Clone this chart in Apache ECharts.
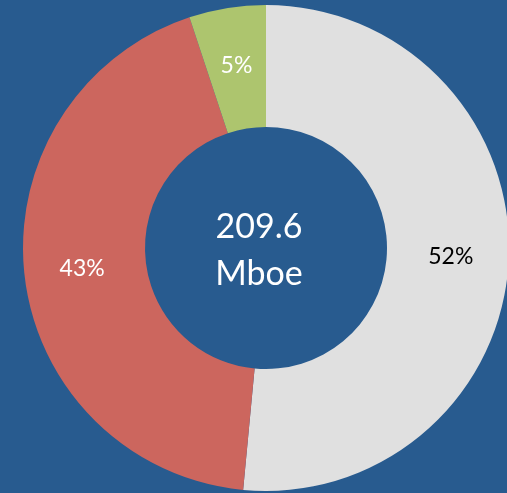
<!DOCTYPE html>
<html>
<head>
<meta charset="utf-8">
<script src="https://cdn.jsdelivr.net/npm/echarts@6/dist/echarts.min.js"></script>
<style>
  html, body { margin: 0; padding: 0; background: #285b8f; }
  #chart { width: 507px; height: 493px; }
</style>
</head>
<body>
<div id="chart"></div>
<script>
// slice shares, shown labels
const names = ['Other', 'Red', 'Green'];
const values = [51.5, 43.4, 5.1];
const labels = ['52%', '43%', '5%'];
const colors = ['#e0e0e0', '#cc665e', '#adc56e'];
const labelColors = ['#000000', '#ffffff', '#ffffff'];
const centerText = ['209.6', 'Mboe'];

const chart = echarts.init(document.getElementById('chart'), null, { renderer: 'canvas' });

const option = {
  backgroundColor: '#285b8f',
  animation: false,
  title: {
    text: centerText.join('\n'),
    left: 254,
    top: 246,
    textAlign: 'center',
    textVerticalAlign: 'middle',
    textStyle: {
      color: '#ffffff',
      fontFamily: 'Lato',
      fontWeight: 'normal',
      fontSize: 34,
      lineHeight: 47
    }
  },
  series: [{
    type: 'pie',
    center: [266, 248],
    radius: [121, 243],
    startAngle: 90,
    clockwise: true,
    avoidLabelOverlap: false,
    label: {
      show: true,
      position: 'inside',
      fontFamily: 'Lato',
      fontSize: 23
    },
    labelLine: { show: false },
    data: values.map((v, i) => ({
      value: v,
      name: names[i],
      itemStyle: { color: colors[i] },
      label: { color: labelColors[i], formatter: labels[i] }
    }))
  }]
};

chart.setOption(option);
</script>
</body>
</html>
